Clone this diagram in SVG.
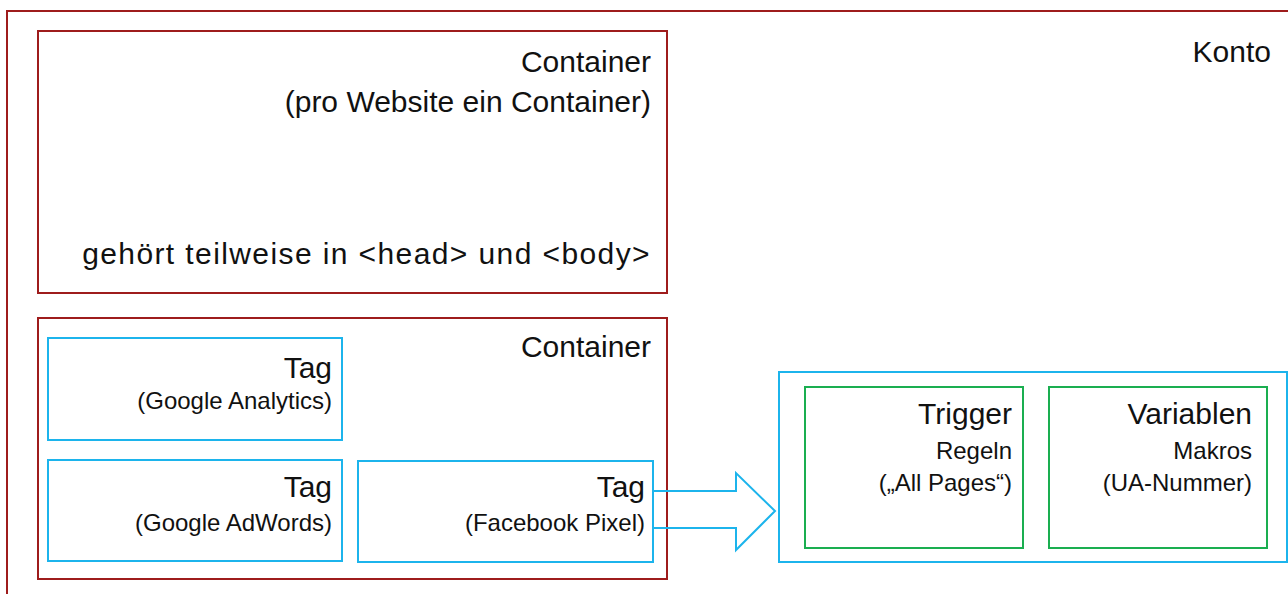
<svg xmlns="http://www.w3.org/2000/svg" width="1288" height="594" viewBox="0 0 1288 594">
<style>
  .red { fill: none; stroke: #9E1C1C; stroke-width: 2; }
  .blue { fill: none; stroke: #1CB4EC; stroke-width: 2; }
  .green { fill: none; stroke: #1AAE50; stroke-width: 2; }
  text { font-family: "Liberation Sans", Arial, sans-serif; fill: #111; text-anchor: end; }
  .big { font-size: 30px; }
  .small { font-size: 24px; }
</style>
<rect width="1288" height="594" fill="#fff"/>
<g id="konto">
  <rect class="red" x="7" y="11" width="1300" height="600"/>
  <text class="big" x="1271" y="62">Konto</text>
</g>
<g id="container1">
  <rect class="red" x="38" y="31" width="629" height="262"/>
  <text class="big" x="651" y="72">Container</text>
  <text class="big" x="651" y="112">(pro Website ein Container)</text>
  <text class="big" x="651" y="264" letter-spacing="1.4">gehört teilweise in &lt;head&gt; und &lt;body&gt;</text>
</g>
<g id="container2">
  <rect class="red" x="38" y="318" width="629" height="261"/>
  <text class="big" x="651" y="357">Container</text>
</g>
<g id="tag-ga">
  <rect class="blue" x="48" y="338" width="294" height="102"/>
  <text class="big" x="332" y="378">Tag</text>
  <text class="small" x="332" y="409">(Google Analytics)</text>
</g>
<g id="tag-adwords">
  <rect class="blue" x="48" y="460" width="294" height="101"/>
  <text class="big" x="332" y="497">Tag</text>
  <text class="small" x="332" y="531">(Google AdWords)</text>
</g>
<g id="tag-fb">
  <rect class="blue" x="358" y="461" width="295" height="101"/>
  <text class="big" x="645" y="497">Tag</text>
  <text class="small" x="645" y="531">(Facebook Pixel)</text>
</g>
<g id="connectors">
  <polygon class="blue" points="653,491 736,491 736,473 775,511 736,550 736,528 653,528"/>
</g>
<g id="group-right">
  <rect class="blue" x="779" y="372" width="508" height="190"/>
</g>
<g id="trigger">
  <rect class="green" x="805" y="387" width="218" height="161"/>
  <text class="big" x="1012" y="424">Trigger</text>
  <text class="small" x="1012" y="459">Regeln</text>
  <text class="small" x="1012" y="491">(„All Pages“)</text>
</g>
<g id="variablen">
  <rect class="green" x="1049" y="387" width="218" height="161"/>
  <text class="big" x="1252" y="424">Variablen</text>
  <text class="small" x="1252" y="459">Makros</text>
  <text class="small" x="1252" y="491">(UA-Nummer)</text>
</g>
</svg>
